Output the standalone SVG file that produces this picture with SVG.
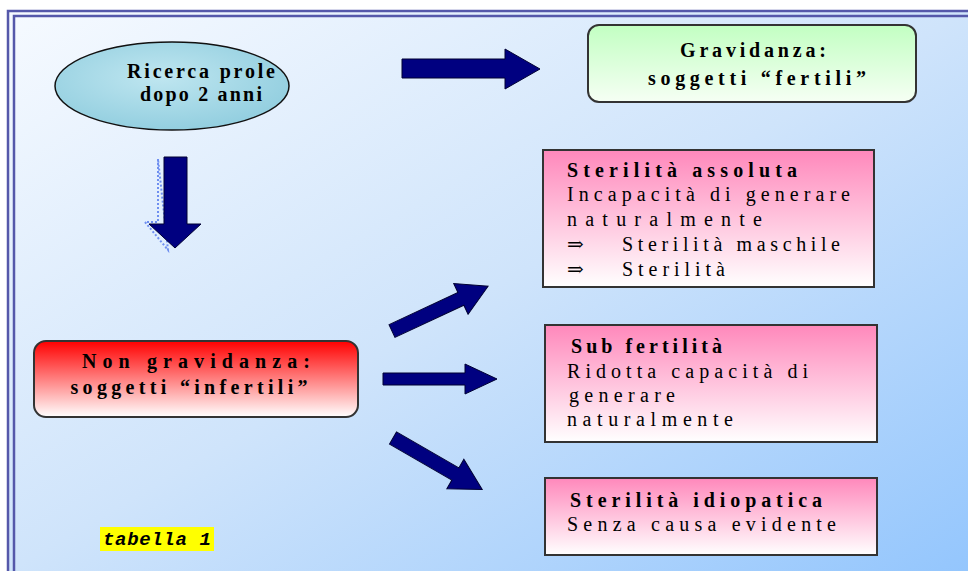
<svg xmlns="http://www.w3.org/2000/svg" width="968" height="571" viewBox="0 0 968 571" font-family="Liberation Serif, DejaVu Serif, serif">
<style>
text{font-family:"Liberation Serif","DejaVu Serif",serif}
.t{font-size:20px;fill:#000}
.b{font-weight:bold}
.box{stroke:#333;stroke-width:2}
.arr{fill:#000080;stroke:#000033;stroke-width:1}
.brd{stroke:#5558aa;stroke-width:2.5;fill:none}
</style>
<defs>
<linearGradient id="bg" x1="0" y1="0" x2="1" y2="1">
<stop offset="0" stop-color="#f6faff"/>
<stop offset="0.5" stop-color="#cfe4fb"/>
<stop offset="1" stop-color="#94c6fd"/>
</linearGradient>
<linearGradient id="pink" x1="0" y1="0" x2="0" y2="1">
<stop offset="0" stop-color="#ff88bb"/>
<stop offset="1" stop-color="#ffffff"/>
</linearGradient>
<linearGradient id="green" x1="0" y1="0" x2="0" y2="1">
<stop offset="0" stop-color="#c2ffc2"/>
<stop offset="1" stop-color="#f6fff4"/>
</linearGradient>
<linearGradient id="red" x1="0" y1="0" x2="0" y2="1">
<stop offset="0" stop-color="#ff0000"/>
<stop offset="1" stop-color="#ffffff"/>
</linearGradient>
<radialGradient id="water" cx="0.45" cy="0.4" r="0.7">
<stop offset="0" stop-color="#bfe6f0"/>
<stop offset="1" stop-color="#8ccbdd"/>
</radialGradient>
</defs>
<rect x="0" y="0" width="968" height="571" fill="#ffffff"/>
<rect x="8" y="11" width="960" height="560" fill="url(#bg)"/>
<path class="brd" d="M8 571 V11 H968"/>
<path class="brd" d="M14 571 V16 H968"/>

<g id="ricerca">
<ellipse cx="172" cy="86" rx="117" ry="44" fill="url(#water)" stroke="#111" stroke-width="1.5"/>
<text class="t b" x="201" y="78" text-anchor="middle" textLength="148" lengthAdjust="spacing">Ricerca prole</text>
<text class="t b" x="201" y="101" text-anchor="middle" textLength="122" lengthAdjust="spacing">dopo 2 anni</text>
</g>

<g id="gravidanza">
<rect class="box" x="588" y="25" width="328" height="77" rx="11" fill="url(#green)"/>
<text class="t b" x="753" y="57" text-anchor="middle" textLength="146" lengthAdjust="spacing">Gravidanza:</text>
<text class="t b" x="757" y="85" text-anchor="middle" textLength="218" lengthAdjust="spacing">soggetti “fertili”</text>
</g>

<g id="non-gravidanza">
<rect class="box" x="34" y="341" width="324" height="76" rx="12" fill="url(#red)"/>
<text class="t b" x="196" y="368" text-anchor="middle" textLength="228" lengthAdjust="spacing">Non gravidanza:</text>
<text class="t b" x="189" y="394" text-anchor="middle" textLength="237" lengthAdjust="spacing">soggetti “infertili”</text>
</g>

<g id="sterilita-assoluta">
<rect class="box" x="543" y="150" width="331" height="137" fill="url(#pink)"/>
<text class="t b" x="567" y="177" textLength="230" lengthAdjust="spacing">Sterilità assoluta</text>
<text class="t" x="567" y="201" textLength="283" lengthAdjust="spacing">Incapacità di generare</text>
<text class="t" x="567" y="226" textLength="195" lengthAdjust="spacing">naturalmente</text>
<text class="t" x="567" y="251">⇒</text>
<text class="t" x="622" y="251" textLength="218" lengthAdjust="spacing">Sterilità maschile</text>
<text class="t" x="567" y="276">⇒</text>
<text class="t" x="622" y="276" textLength="103" lengthAdjust="spacing">Sterilità</text>
</g>

<g id="sub-fertilita">
<rect class="box" x="545" y="325" width="332" height="117" fill="url(#pink)"/>
<text class="t b" x="571" y="353" textLength="151" lengthAdjust="spacing">Sub fertilità</text>
<text class="t" x="567" y="378" textLength="241" lengthAdjust="spacing">Ridotta capacità di</text>
<text class="t" x="569" y="402" textLength="106" lengthAdjust="spacing">generare</text>
<text class="t" x="567" y="426" textLength="166" lengthAdjust="spacing">naturalmente</text>
</g>

<g id="sterilita-idiopatica">
<rect class="box" x="545" y="478" width="332" height="77" fill="url(#pink)"/>
<text class="t b" x="570" y="507" textLength="252" lengthAdjust="spacing">Sterilità idiopatica</text>
<text class="t" x="567" y="531" textLength="269" lengthAdjust="spacing">Senza causa evidente</text>
</g>

<g id="tabella">
<rect x="100" y="527" width="114" height="24" fill="#ffff00"/>
<text x="103" y="545" style="font-family:'Liberation Mono','DejaVu Sans Mono',monospace" font-size="19" font-style="italic" font-weight="bold" fill="#000" textLength="108" lengthAdjust="spacing">tabella 1</text>
</g>

<g id="connectors">
<polygon class="arr" points="402,59 505,59 505,49 540,69 505,89 505,78 402,78"/>
<polygon points="158,159 158,222 145,222 168,250" fill="none" stroke="#6f8ff0" stroke-width="2" stroke-dasharray="2,2"/>
<polygon class="arr" points="164,157 187,157 187,224 201,224 175,248 149,224 164,224"/>
<g transform="translate(392,331) rotate(-25)">
<polygon class="arr" points="0,-7 76,-7 76,-17 106,0 76,17 76,7 0,7"/>
</g>
<polygon class="arr" points="383,373 465,373 465,364 497,379 465,394 465,385 383,385"/>
<g transform="translate(393,438) rotate(30)">
<polygon class="arr" points="0,-7 72,-7 72,-17 103,0 72,17 72,7 0,7"/>
</g>
</g>
</svg>
